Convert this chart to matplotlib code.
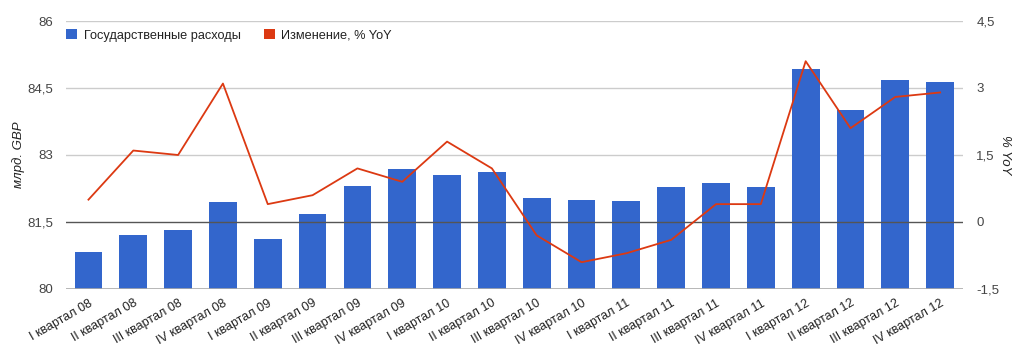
import matplotlib
matplotlib.use("Agg")
import matplotlib.pyplot as plt
import numpy as np
from matplotlib.patches import Patch
from matplotlib.ticker import FuncFormatter

plt.rcParams['font.family'] = ['Liberation Sans', 'DejaVu Sans']

categories = ["I квартал 08", "II квартал 08", "III квартал 08", "IV квартал 08",
              "I квартал 09", "II квартал 09", "III квартал 09", "IV квартал 09",
              "I квартал 10", "II квартал 10", "III квартал 10", "IV квартал 10",
              "I квартал 11", "II квартал 11", "III квартал 11", "IV квартал 11",
              "I квартал 12", "II квартал 12", "III квартал 12", "IV квартал 12"]
spending = [80.82, 81.20, 81.31, 81.94, 81.11, 81.69, 82.30, 82.68, 82.55, 82.63,
            82.04, 81.99, 81.97, 82.28, 82.37, 82.28, 84.93, 84.01, 84.67, 84.64]
yoy = [0.50, 1.60, 1.50, 3.10, 0.40, 0.60, 1.20, 0.90, 1.80, 1.20,
       -0.30, -0.90, -0.70, -0.40, 0.40, 0.40, 3.60, 2.10, 2.80, 2.90]
left_ticks = [80, 81.5, 83, 84.5, 86]
right_ticks = [-1.5, 0, 1.5, 3, 4.5]

bar_color = "#3366cc"
line_color = "#dc3912"
text_color = "#444444"

fig = plt.figure(figsize=(10.24, 3.59), dpi=100)
ax = fig.add_axes([0.0645, 0.195, 0.8755, 0.7465])
ax2 = ax.twinx()

x = np.arange(len(categories)) + 0.5
ax.set_xlim(0, len(categories))
ax.set_ylim(80, 86)
ax2.set_ylim(-1.5, 4.5)

for t in left_ticks[1:]:
    if t == 81.5:
        continue
    ax.axhline(t, color="#cccccc", lw=1, zorder=0)
ax.bar(x, [s - 80 for s in spending], bottom=80, width=0.62, color=bar_color, zorder=2)
ax.axhline(80, color="#aaaaaa", lw=1.2, zorder=3)
ax.axhline(81.5, color="#555555", lw=1.0, zorder=3)

ax2.plot(x, yoy, color=line_color, lw=1.3, zorder=4)
ax2.set_zorder(ax.get_zorder() + 1)
ax2.patch.set_visible(False)

fmt = FuncFormatter(lambda v, p: (f"{v:g}").replace(".", ","))
ax.set_yticks(left_ticks)
ax.yaxis.set_major_formatter(fmt)
ax2.set_yticks(right_ticks)
ax2.yaxis.set_major_formatter(fmt)

ax.set_xticks(x)
ax.set_xticklabels(categories, rotation=30, ha="right", rotation_mode="anchor",
                   fontsize=9, color="#222222")
ax.tick_params(axis="x", length=0, pad=6)
ax.tick_params(axis="y", length=0, pad=9, labelsize=9.5, labelcolor=text_color)
ax2.tick_params(axis="y", length=0, pad=10, labelsize=9.5, labelcolor=text_color)

for a in (ax, ax2):
    for s in a.spines.values():
        s.set_visible(False)

ax.set_ylabel("млрд. GBP", fontsize=9.5, style="italic", color="#222222", labelpad=2)
ax2.set_ylabel("% YoY", fontsize=9.5, style="italic", color="#222222", rotation=270, labelpad=8)

handles = [Patch(facecolor=bar_color, edgecolor="none"),
           Patch(facecolor=line_color, edgecolor="none")]
leg = ax.legend(handles, ["Государственные расходы", "Изменение, % YoY"],
                loc="upper left", bbox_to_anchor=(-0.006, 0.99), ncol=2, frameon=False,
                fontsize=9.2, handlelength=0.9, handleheight=0.9, handletextpad=0.5,
                columnspacing=1.8, borderaxespad=0)
for t in leg.get_texts():
    t.set_color("#222222")

fig.savefig("out.png", dpi=100)
